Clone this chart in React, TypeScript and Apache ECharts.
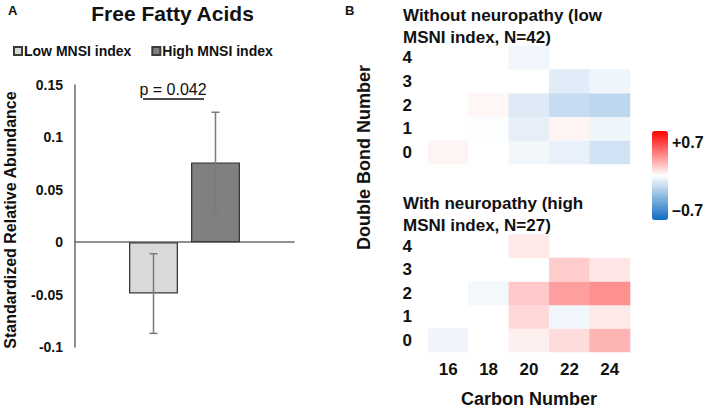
import React, { useEffect, useRef } from "react";
import * as echarts from "echarts";

// ---- Panel A data ----
const groups = ["Low MNSI index", "High MNSI index"];
const means = [-0.049, 0.076];
const errors = [0.038, 0.048];
const barColors = ["#d9d9d9", "#808080"];
const yTicks = { min: -0.1, max: 0.15, interval: 0.05 };

// ---- Panel B data ----
const carbons = ["16", "18", "20", "22", "24"];
const bonds = ["0", "1", "2", "3", "4"];
// rows: bond 0..4, columns: carbon 16..24
const lowMNSI: (number | null)[][] = [
  [0.03, 0, -0.04, -0.066, -0.137],
  [null, -0.005, -0.074, 0.03, -0.05],
  [null, 0.025, -0.1, -0.166, -0.19],
  [null, null, 0, -0.09, -0.05],
  [null, null, -0.043, null, null],
];
const highMNSI: (number | null)[][] = [
  [-0.048, 0, 0.041, 0.096, 0.206],
  [null, null, 0.104, -0.045, 0.064],
  [null, -0.035, 0.148, 0.266, 0.305],
  [null, null, 0, 0.14, 0.07],
  [null, null, 0.058, null, null],
];
const scaleMin = -0.7;
const scaleMax = 0.7;

const FONT = '"Liberation Sans", Arial, sans-serif';

function toCells(m: (number | null)[][]) {
  const out: number[][] = [];
  m.forEach((row, bi) =>
    row.forEach((v, ci) => {
      if (v !== null) out.push([ci, bi, v]);
    })
  );
  return out;
}

function txt(
  text: string,
  x: number,
  y: number,
  size: number,
  opts: { bold?: boolean; align?: string; valign?: string; rotation?: number; lineHeight?: number } = {}
) {
  const align = opts.align ?? "left";
  const valign = opts.valign ?? "middle";
  return {
    type: "text",
    x,
    y,
    rotation: opts.rotation ?? 0,
    silent: true,
    style: {
      text,
      x: 0,
      y: 0,
      fill: "#111",
      font: `${opts.bold === false ? "" : "bold "}${size}px ${FONT}`,
      align,
      verticalAlign: valign,
      textAlign: align,
      textVerticalAlign: valign,
      lineHeight: opts.lineHeight,
    },
  };
}

export default function App() {
  const ref = useRef<HTMLDivElement>(null);
  useEffect(() => {
    if (!ref.current) return;
    const chart = echarts.init(ref.current, undefined, { renderer: "svg" });
    const barW = 49;
    const gapPx = 13;
    const heatAxisY = (gridIndex: number) => ({
      type: "category",
      gridIndex,
      data: bonds,
      axisLine: { show: false },
      axisTick: { show: false },
      splitLine: { show: false },
      axisLabel: { fontFamily: FONT, fontWeight: "bold", fontSize: 17, color: "#111", margin: 16 },
    });
    const option: any = {
      animation: false,
      backgroundColor: "#fff",
      textStyle: { fontFamily: FONT },
      legend: {
        left: 8,
        top: 39,
        itemWidth: 8,
        itemHeight: 8,
        itemGap: 20,
        icon: "rect",
        data: groups,
        textStyle: { fontFamily: FONT, fontWeight: "bold", fontSize: 14, color: "#111", padding: [0, 0, 0, -3] },
      },
      grid: [
        { left: 75, top: 85, width: 219, height: 262 },
        { left: 428, top: 46, width: 202, height: 118 },
        { left: 428, top: 234.5, width: 202, height: 117.5 },
      ],
      xAxis: [
        {
          type: "category",
          gridIndex: 0,
          data: [""],
          axisLine: { onZero: true, lineStyle: { color: "#6b6b6b", width: 1.5 } },
          axisTick: { show: false },
          axisLabel: { show: false },
        },
        {
          type: "category",
          gridIndex: 1,
          data: carbons,
          axisLine: { show: false },
          axisTick: { show: false },
          axisLabel: { show: false },
          splitLine: { show: false },
        },
        {
          type: "category",
          gridIndex: 2,
          data: carbons,
          axisLine: { show: false },
          axisTick: { show: false },
          splitLine: { show: false },
          axisLabel: { fontFamily: FONT, fontWeight: "bold", fontSize: 17, color: "#111", margin: 9 },
          name: "Carbon Number",
          nameLocation: "middle",
          nameGap: 38,
          nameTextStyle: { fontFamily: FONT, fontWeight: "bold", fontSize: 18, color: "#111" },
        },
      ],
      yAxis: [
        {
          type: "value",
          gridIndex: 0,
          min: yTicks.min,
          max: yTicks.max,
          interval: yTicks.interval,
          splitLine: { show: false },
          axisTick: { show: false },
          axisLine: { show: true, onZero: false, lineStyle: { color: "#6b6b6b", width: 1.5 } },
          axisLabel: {
            fontFamily: FONT,
            fontWeight: "bold",
            fontSize: 14,
            color: "#111",
            margin: 12,
            formatter: (v: number) => String(parseFloat(v.toFixed(2))),
          },
        },
        heatAxisY(1),
        heatAxisY(2),
      ],
      visualMap: {
        type: "continuous",
        min: scaleMin,
        max: scaleMax,
        seriesIndex: [3, 4],
        calculable: false,
        orient: "vertical",
        left: 652,
        top: 131,
        padding: 0,
        itemWidth: 16,
        itemHeight: 89,
        text: null,
        showLabel: false,
        inRange: { color: ["#0f6cc0", "#ffffff", "#ff0000"] },
      },
      series: [
        {
          name: groups[0],
          type: "bar",
          xAxisIndex: 0,
          yAxisIndex: 0,
          data: [means[0]],
          barWidth: barW,
          barGap: `${(gapPx / barW) * 100}%`,
          itemStyle: { color: barColors[0], borderColor: "#3a3a3a", borderWidth: 1.3 },
        },
        {
          name: groups[1],
          type: "bar",
          xAxisIndex: 0,
          yAxisIndex: 0,
          data: [means[1]],
          barWidth: barW,
          barGap: `${(gapPx / barW) * 100}%`,
          itemStyle: { color: barColors[1], borderColor: "#3a3a3a", borderWidth: 1.3 },
        },
        {
          type: "custom",
          xAxisIndex: 0,
          yAxisIndex: 0,
          silent: true,
          z: 5,
          data: means.map((m, i) => [0, m - errors[i], m + errors[i], i]),
          renderItem: (params: any, api: any) => {
            const lo = api.coord([api.value(0), api.value(1)]);
            const hi = api.coord([api.value(0), api.value(2)]);
            const off = ((barW + gapPx) / 2) * (api.value(3) === 0 ? -1 : 1);
            const cx = lo[0] + off;
            const cap = 4;
            const style = { stroke: "#7a7a7a", lineWidth: 1.5 };
            return {
              type: "group",
              children: [
                { type: "line", shape: { x1: cx, y1: lo[1], x2: cx, y2: hi[1] }, style },
                { type: "line", shape: { x1: cx - cap, y1: lo[1], x2: cx + cap, y2: lo[1] }, style },
                { type: "line", shape: { x1: cx - cap, y1: hi[1], x2: cx + cap, y2: hi[1] }, style },
              ],
            };
          },
        },
        {
          type: "heatmap",
          xAxisIndex: 1,
          yAxisIndex: 1,
          data: toCells(lowMNSI),
          itemStyle: { borderWidth: 0 },
        },
        {
          type: "heatmap",
          xAxisIndex: 2,
          yAxisIndex: 2,
          data: toCells(highMNSI),
          itemStyle: { borderWidth: 0 },
        },
      ],
      graphic: [
        txt("A", 8, 10, 13),
        txt("B", 345, 10, 13),
        txt("Free Fatty Acids", 172.5, 13, 21, { align: "center" }),
        txt("p = 0.042", 173, 89, 16, { bold: false, align: "center" }),
        {
          type: "line",
          silent: true,
          shape: { x1: 143, y1: 99, x2: 204, y2: 99 },
          style: { stroke: "#111", lineWidth: 1.5 },
        },
        txt("Standardized Relative Abundance", 10.5, 220, 16, { align: "center", rotation: Math.PI / 2 }),
        txt("Double Bond Number", 363.5, 157.5, 18, { align: "center", rotation: Math.PI / 2 }),
        txt("Without neuropathy (low\nMSNI index, N=42)", 403, 4, 17, { valign: "top", lineHeight: 22 }),
        txt("With neuropathy (high\nMSNI index, N=27)", 403, 192, 17, { valign: "top", lineHeight: 22 }),
        txt("+0.7", 672, 142, 16),
        txt("\u20130.7", 672, 210, 16),
      ],
    };
    chart.setOption(option);
    return () => chart.dispose();
  }, []);
  return (
    <div
      ref={ref}
      style={{ position: "fixed", left: 0, top: 0, width: 709, height: 412, background: "#fff" }}
    />
  );
}
